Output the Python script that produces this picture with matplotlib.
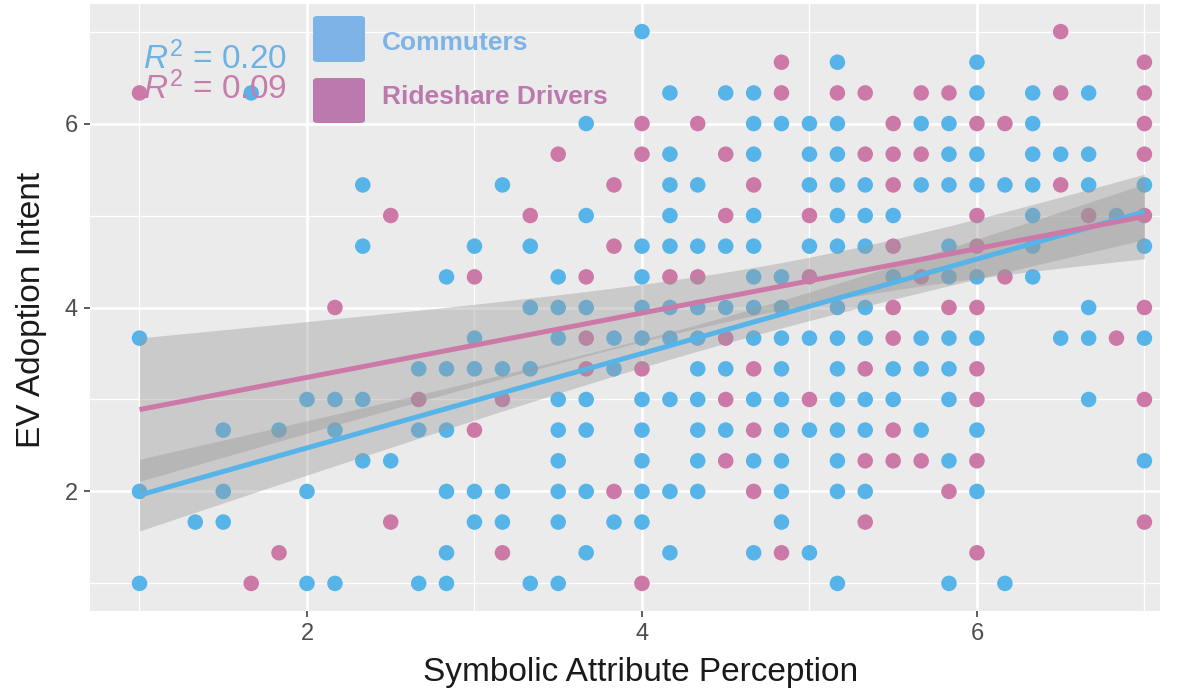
import numpy as np
import matplotlib
matplotlib.use("Agg")
import matplotlib.pyplot as plt
from matplotlib.patches import FancyBboxPatch

plt.rcParams['font.family'] = ['Liberation Sans', 'DejaVu Sans']
plt.rcParams['mathtext.fontset'] = 'custom'
plt.rcParams['mathtext.rm'] = 'Liberation Sans'
plt.rcParams['mathtext.it'] = 'Liberation Sans:italic'

# ---------------- data ----------------
commuter_x = [1.0, 1.0, 1.0,
              1.333,
              1.5, 1.5, 1.5,
              1.667,
              1.833,
              2.0, 2.0, 2.0,
              2.167, 2.167, 2.167,
              2.333, 2.333, 2.333, 2.333,
              2.5,
              2.667, 2.667, 2.667,
              2.833, 2.833, 2.833, 2.833, 2.833, 2.833,
              3.0, 3.0, 3.0, 3.0, 3.0,
              3.167, 3.167, 3.167, 3.167,
              3.333, 3.333, 3.333, 3.333,
              3.5, 3.5, 3.5, 3.5, 3.5, 3.5, 3.5, 3.5, 3.5,
              3.667, 3.667, 3.667, 3.667, 3.667, 3.667, 3.667,
              3.833, 3.833, 3.833,
              4.0, 4.0, 4.0, 4.0, 4.0, 4.0, 4.0, 4.0, 4.0, 4.0,
              4.167, 4.167, 4.167, 4.167, 4.167, 4.167, 4.167, 4.167, 4.167, 4.167,
              4.333, 4.333, 4.333, 4.333, 4.333, 4.333, 4.333, 4.333, 4.333,
              4.5, 4.5, 4.5, 4.5, 4.5,
              4.667, 4.667, 4.667, 4.667, 4.667, 4.667, 4.667, 4.667, 4.667, 4.667, 4.667,
              4.833, 4.833, 4.833, 4.833, 4.833, 4.833, 4.833, 4.833, 4.833, 4.833,
              5.0, 5.0, 5.0, 5.0, 5.0, 5.0, 5.0,
              5.167, 5.167, 5.167, 5.167, 5.167, 5.167, 5.167, 5.167, 5.167, 5.167, 5.167, 5.167, 5.167, 5.167,
              5.333, 5.333, 5.333, 5.333, 5.333, 5.333, 5.333, 5.333,
              5.5, 5.5, 5.5, 5.5,
              5.667, 5.667, 5.667, 5.667, 5.667,
              5.833, 5.833, 5.833, 5.833, 5.833, 5.833, 5.833, 5.833, 5.833, 5.833,
              6.0, 6.0, 6.0, 6.0, 6.0, 6.0, 6.0, 6.0,
              6.167, 6.167,
              6.333, 6.333, 6.333, 6.333, 6.333, 6.333, 6.333,
              6.5, 6.5,
              6.667, 6.667, 6.667, 6.667, 6.667, 6.667,
              6.833,
              7.0, 7.0, 7.0, 7.0]
commuter_y = [3.667, 2.0, 1.0,
              1.667,
              2.667, 2.0, 1.667,
              6.333,
              2.667,
              3.0, 2.0, 1.0,
              3.0, 2.667, 1.0,
              5.333, 4.667, 3.0, 2.333,
              2.333,
              3.333, 2.667, 1.0,
              4.333, 3.333, 2.667, 2.0, 1.333, 1.0,
              4.667, 3.667, 3.333, 2.0, 1.667,
              5.333, 3.333, 2.0, 1.667,
              4.667, 4.0, 3.333, 1.0,
              4.333, 4.0, 3.667, 3.0, 2.667, 2.333, 2.0, 1.667, 1.0,
              6.0, 5.0, 4.0, 3.0, 2.667, 2.0, 1.333,
              3.667, 3.333, 1.667,
              7.0, 4.667, 4.333, 4.0, 3.667, 3.0, 2.667, 2.333, 2.0, 1.667,
              6.333, 5.667, 5.333, 5.0, 4.667, 4.0, 3.667, 3.0, 2.0, 1.333,
              5.333, 4.667, 4.0, 3.667, 3.333, 3.0, 2.667, 2.333, 2.0,
              6.333, 4.667, 4.0, 3.333, 2.667,
              6.333, 6.0, 5.667, 5.0, 4.667, 4.333, 4.0, 3.667, 3.0, 2.333, 1.333,
              6.0, 4.333, 4.0, 3.667, 3.333, 3.0, 2.667, 2.333, 2.0, 1.667,
              6.0, 5.667, 5.333, 4.667, 3.667, 2.667, 1.333,
              6.667, 6.0, 5.667, 5.333, 5.0, 4.667, 4.0, 3.667, 3.333, 3.0, 2.667, 2.333, 2.0, 1.0,
              5.333, 5.0, 4.667, 4.0, 3.667, 3.0, 2.667, 2.0,
              5.0, 4.333, 3.333, 3.0,
              6.0, 5.333, 3.667, 3.333, 2.667,
              6.0, 5.667, 5.333, 4.667, 4.333, 3.667, 3.333, 3.0, 2.333, 1.0,
              6.667, 6.333, 5.667, 5.333, 4.333, 3.667, 2.667, 2.0,
              5.333, 1.0,
              6.333, 6.0, 5.667, 5.333, 5.0, 4.667, 4.333,
              5.667, 3.667,
              6.333, 5.667, 5.333, 4.0, 3.667, 3.0,
              5.0,
              5.333, 4.667, 3.667, 2.333]

rideshare_x = [1.0,
               1.667,
               1.833,
               2.167,
               2.5, 2.5,
               2.667,
               3.0, 3.0,
               3.167, 3.167,
               3.333,
               3.5,
               3.667, 3.667, 3.667,
               3.833, 3.833, 3.833,
               4.0, 4.0, 4.0, 4.0,
               4.167,
               4.333, 4.333,
               4.5, 4.5, 4.5, 4.5, 4.5,
               4.667, 4.667, 4.667, 4.667,
               4.833, 4.833, 4.833,
               5.0, 5.0, 5.0,
               5.167,
               5.333, 5.333, 5.333, 5.333, 5.333,
               5.5, 5.5, 5.5, 5.5, 5.5, 5.5, 5.5, 5.5,
               5.667, 5.667, 5.667, 5.667,
               5.833, 5.833, 5.833,
               6.0, 6.0, 6.0, 6.0, 6.0, 6.0, 6.0, 6.0,
               6.167, 6.167,
               6.5, 6.5, 6.5,
               6.667,
               6.833,
               7.0, 7.0, 7.0, 7.0, 7.0, 7.0, 7.0, 7.0]
rideshare_y = [6.333,
               1.0,
               1.333,
               4.0,
               5.0, 1.667,
               3.0,
               4.333, 2.667,
               3.0, 1.333,
               5.0,
               5.667,
               4.333, 3.667, 3.333,
               5.333, 4.667, 2.0,
               6.0, 5.667, 3.333, 1.0,
               4.333,
               6.0, 4.333,
               5.667, 5.0, 3.667, 3.0, 2.333,
               5.333, 3.333, 2.667, 2.0,
               6.667, 6.333, 1.333,
               5.0, 4.333, 3.0,
               6.333,
               6.333, 5.667, 3.333, 2.333, 1.667,
               6.0, 5.667, 5.333, 4.667, 4.0, 3.667, 2.667, 2.333,
               6.333, 5.667, 4.333, 2.333,
               6.333, 4.0, 2.0,
               6.0, 5.0, 4.667, 4.0, 3.333, 3.0, 2.333, 1.333,
               6.0, 4.333,
               7.0, 6.333, 5.333,
               5.0,
               3.667,
               6.667, 6.333, 6.0, 5.667, 5.0, 4.0, 3.0, 1.667]

group_names = ["Commuters", "Rideshare Drivers"]
r2_labels = ["0.20", "0.09"]
x_ticks = [2, 4, 6]
y_ticks = [2, 4, 6]
# fitted lines (the source data contain overlapping points)
fit_at_x1 = [1.96, 2.89]
fit_at_x7 = [5.04, 4.99]
ci_half_at_x1 = [0.39, 0.78]

# ---------------- styling ----------------
W, H = 1188, 692
point_colors = ["#56B4E9", "#CC79A7"]
key_colors = ["#7DB3E6", "#BC79AE"]
text_colors = ["#6DB2E3", "#C77DAB"]

fig = plt.figure(figsize=(W / 100, H / 100), dpi=100)
fig.patch.set_facecolor("white")
L, R, T, B = 90, 1160, 4, 611
ax = fig.add_axes([L / W, 1 - B / H, (R - L) / W, (B - T) / H])
ax.set_facecolor("#EBEBEB")
ax.set_xlim(0.7045, 7.093)
ax.set_ylim(0.7, 7.3)
for s in ax.spines.values():
    s.set_visible(False)

ax.set_xticks(x_ticks)
ax.set_yticks(y_ticks)
ax.set_xticks([1, 3, 5, 7], minor=True)
ax.set_yticks([1, 3, 5, 7], minor=True)
ax.grid(which="major", color="white", linewidth=1.9)
ax.grid(which="minor", color="white", linewidth=1.0)
ax.set_axisbelow(True)
ax.tick_params(which="major", length=4, width=1.1, color="#333333",
               labelsize=17, labelcolor="#4D4D4D", pad=5)
ax.tick_params(which="minor", length=0)

groups = [(np.array(commuter_x), np.array(commuter_y)),
          (np.array(rideshare_x), np.array(rideshare_y))]

for (gx, gy), c in zip(groups, point_colors):
    ax.scatter(gx, gy, s=125, color=c, edgecolors="none", zorder=2)

xs = np.linspace(1, 7, 100)
for i, ((gx, gy), c) in enumerate(zip(groups, point_colors)):
    n = len(gx)
    sxx = np.sum((gx - gx.mean()) ** 2)
    shape = np.sqrt(1 / n + (xs - gx.mean()) ** 2 / sxx)
    half = shape / shape[0] * ci_half_at_x1[i]
    fit = fit_at_x1[i] + (fit_at_x7[i] - fit_at_x1[i]) * (xs - 1) / 6
    ax.fill_between(xs, fit - half, fit + half, color="#999999",
                    alpha=0.4, linewidth=0, zorder=3)
    ax.plot(xs, fit, color=c, linewidth=3.6, zorder=4, solid_capstyle="butt")

# R^2 labels
ax.text(1.02, 6.59, r"$R^2$ = " + r2_labels[0], color=text_colors[0],
        fontsize=24, va="baseline", ha="left", zorder=5)
ax.text(1.02, 6.27, r"$R^2$ = " + r2_labels[1], color=text_colors[1],
        fontsize=24, va="baseline", ha="left", zorder=5)

# legend (inside panel, top)
def fx(px):
    return px / W

def fy(py):
    return 1 - py / H

key_boxes = [(313, 16, 365, 62), (313, 78, 365, 123)]
label_y = [43, 97]
for (x0, y0, x1, y1), kc, name, ly in zip(key_boxes, key_colors, group_names, label_y):
    p = FancyBboxPatch((fx(x0), fy(y1)), fx(x1) - fx(x0), fy(y0) - fy(y1),
                       boxstyle="round,pad=0,rounding_size=0.004",
                       transform=fig.transFigure, facecolor=kc, edgecolor="none",
                       zorder=6)
    fig.patches.append(p)
    fig.text(fx(382), fy(ly), name, color=kc, fontsize=19, fontweight="bold",
             va="center", ha="left")

fig.text(fx(641), fy(673), "Symbolic Attribute Perception", fontsize=24,
         color="#1A1A1A", ha="center", va="center")
fig.text(fx(32), fy(310), "EV Adoption Intent", fontsize=24, color="#1A1A1A",
         ha="center", va="center", rotation=90)

fig.savefig("out.png", dpi=100, facecolor="white")
